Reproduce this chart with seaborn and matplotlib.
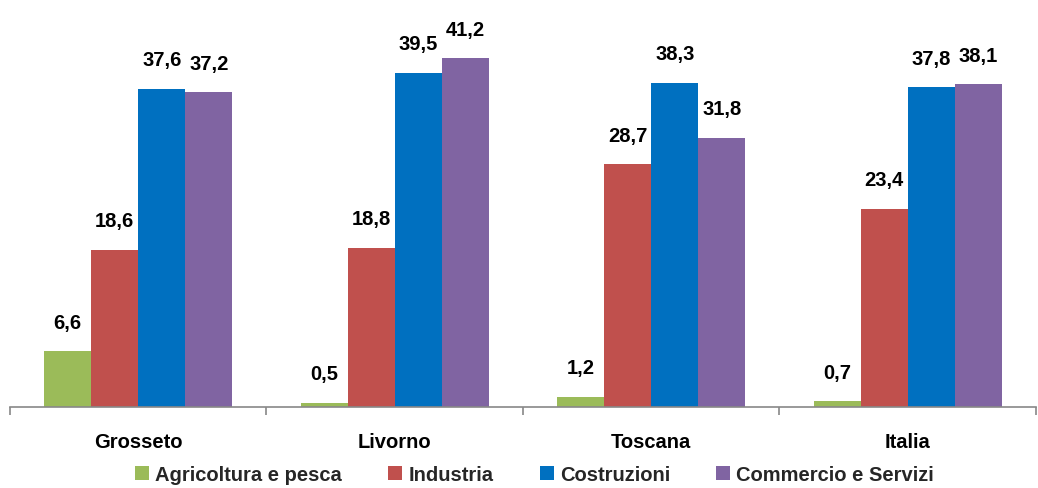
import matplotlib
matplotlib.use("Agg")
import matplotlib.pyplot as plt
import pandas as pd
import seaborn as sns
from matplotlib.patches import Patch
from matplotlib.ticker import FixedLocator

CATEGORIES = ["Grosseto", "Livorno", "Toscana", "Italia"]
SERIES = ["Agricoltura e pesca", "Industria", "Costruzioni", "Commercio e Servizi"]
AGRICOLTURA = [6.6, 0.5, 1.2, 0.7]
INDUSTRIA = [18.6, 18.8, 28.7, 23.4]
COSTRUZIONI = [37.6, 39.5, 38.3, 37.8]
COMMERCIO = [37.2, 41.2, 31.8, 38.1]
COLORS = ["#9BBB59", "#C0504D", "#0070C0", "#8064A2"]


def main() -> None:
    sns.set_theme(style="white")
    plt.rcParams["font.family"] = ["Liberation Sans", "DejaVu Sans"]

    values = [AGRICOLTURA, INDUSTRIA, COSTRUZIONI, COMMERCIO]
    rows = []
    for s, vals in zip(SERIES, values):
        for c, v in zip(CATEGORIES, vals):
            rows.append({"area": c, "settore": s, "valore": v})
    df = pd.DataFrame(rows)

    fig = plt.figure(figsize=(10.38, 4.89), dpi=100)
    ax = fig.add_axes([0.0096, 0.1656, 0.9884, 0.8344])

    sns.barplot(data=df, x="area", y="valore", hue="settore", order=CATEGORIES,
                hue_order=SERIES, palette=COLORS, width=0.733, saturation=1,
                linewidth=0, legend=False, ax=ax)

    # value labels, Italian decimal comma
    for cont in ax.containers:
        ax.bar_label(cont, labels=[f"{b.get_height():.1f}".replace(".", ",") for b in cont],
                     padding=14, fontsize=14.5, fontweight="bold", color="black")

    ax.set_ylim(0, 48.2)
    ax.set_xlim(-0.5, 3.5)
    ax.set_xlabel("")
    ax.set_ylabel("")
    ax.set_yticks([])
    for side in ["top", "right", "left"]:
        ax.spines[side].set_visible(False)
    ax.spines["bottom"].set_color("#888888")
    ax.spines["bottom"].set_linewidth(1.2)

    # tick marks between the groups, none under the labels
    ax.xaxis.set_minor_locator(FixedLocator([-0.5, 0.5, 1.5, 2.5, 3.5]))
    ax.tick_params(axis="x", which="minor", bottom=True, length=6, width=1.2,
                   color="#888888", direction="out")
    ax.tick_params(axis="x", which="major", bottom=False, length=0, pad=18)
    plt.setp(ax.get_xticklabels(), fontsize=14.5, fontweight="bold", color="black")

    handles = [Patch(facecolor=c, edgecolor="none") for c in COLORS]
    fig.legend(handles, SERIES, loc="center", bbox_to_anchor=(0.515, 0.028), ncol=4,
               frameon=False, prop={"size": 14.5, "weight": "bold"},
               handlelength=0.7, handleheight=0.7, handletextpad=0.3,
               columnspacing=2.3)

    fig.savefig("out.png", dpi=100)


if __name__ == "__main__":
    main()
